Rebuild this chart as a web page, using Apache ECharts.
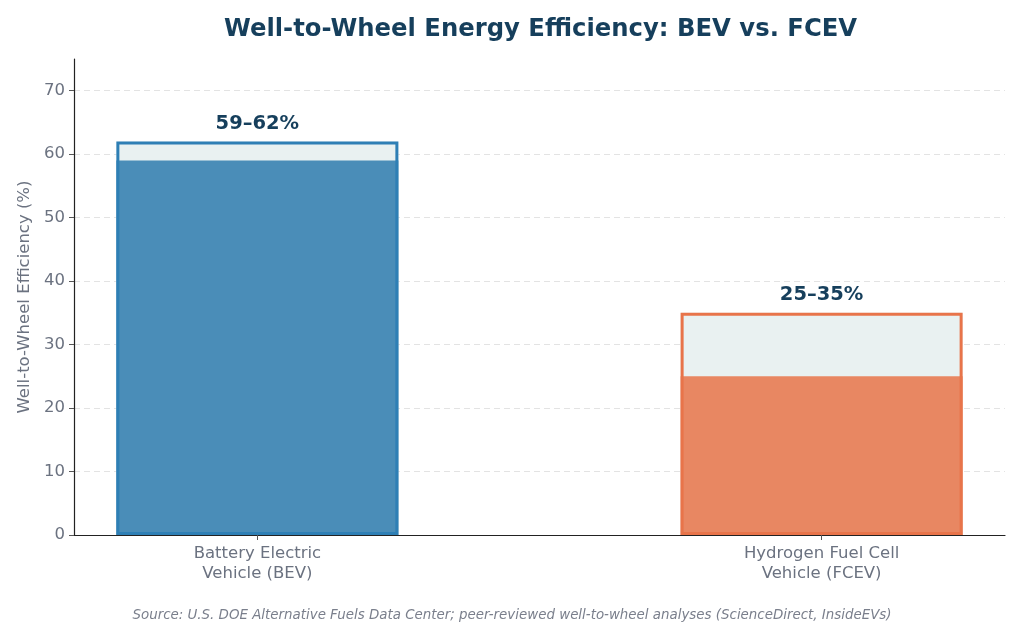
<!DOCTYPE html>
<html>
<head>
<meta charset="utf-8">
<script src="https://cdn.jsdelivr.net/npm/echarts@6/dist/echarts.min.js"></script>
<style>
  html, body { margin: 0; padding: 0; background: #fff; }
  #chart { width: 1024px; height: 626px; }
</style>
</head>
<body>
<div id="chart"></div>
<script>
var categories = ['Battery Electric\nVehicle (BEV)', 'Hydrogen Fuel Cell\nVehicle (FCEV)'];
var lowValues = [59, 25];
var highValues = [62, 35];
var rangeLabels = ['59–62%', '25–35%'];
var yTicks = [0, 10, 20, 30, 40, 50, 60, 70];

var fillColors = ['#4a8db8', '#e88762'];
var edgeColors = ['#2e7fb5', '#e8744a'];
var rangeFill = '#e9f1f1';

var font = 'DejaVu Sans';
var chart = echarts.init(document.getElementById('chart'));

// light band runs 0..high, solid part 0..low drawn over it, outline on top
var rangeData = highValues.map(function(v, i) {
  return { value: [i, v], itemStyle: { color: rangeFill } };
});
var baseData = lowValues.map(function(v, i) {
  return { value: [i, v], itemStyle: { color: fillColors[i] } };
});
var outlineData = highValues.map(function(v, i) {
  return {
    value: [i, v],
    itemStyle: { color: 'rgba(0,0,0,0)', borderColor: edgeColors[i], borderWidth: 3 },
    label: { formatter: rangeLabels[i] }
  };
});

chart.setOption({
  animation: false,
  backgroundColor: '#fff',
  textStyle: { fontFamily: font },
  title: {
    text: 'Well-to-Wheel Energy Efficiency: BEV vs. FCEV',
    left: 219,
    top: 13,
    textStyle: { fontFamily: font, fontSize: 24.3, fontWeight: 'bold', color: '#163f5c' }
  },
  graphic: [{
    type: 'text',
    left: 'center',
    top: 609,
    style: {
      text: 'Source: U.S. DOE Alternative Fuels Data Center; peer-reviewed well-to-wheel analyses (ScienceDirect, InsideEVs)',
      font: 'italic 13.4px "DejaVu Sans"',
      fill: '#7a7f8c'
    }
  }],
  grid: { left: 74, right: 19, top: 59, bottom: 91 },
  xAxis: {
    type: 'value',
    min: -0.325,
    max: 1.325,
    axisLine: { show: true, onZero: false, lineStyle: { color: '#222', width: 1.2 } },
    axisTick: { show: true, customValues: [0, 1], length: 5, lineStyle: { color: '#555' } },
    axisLabel: {
      customValues: [0, 1],
      formatter: function(v) { return categories[Math.round(v)]; },
      fontFamily: font,
      color: '#6b7280',
      fontSize: 16.5,
      lineHeight: 20,
      margin: 9
    },
    splitLine: { show: false }
  },
  yAxis: {
    type: 'value',
    min: 0,
    max: 75,
    interval: 10,
    name: 'Well-to-Wheel Efficiency (%)',
    nameLocation: 'middle',
    nameGap: 41,
    nameTextStyle: { color: '#6b7280', fontSize: 16.5, fontFamily: font },
    axisLine: { show: true, onZero: false, lineStyle: { color: '#222', width: 1.2 } },
    axisTick: { show: true, customValues: yTicks, length: 5, lineStyle: { color: '#555' } },
    axisLabel: {
      customValues: yTicks,
      fontFamily: font,
      color: '#6b7280',
      fontSize: 16.5,
      margin: 9
    },
    splitLine: { show: true, showMaxLine: true, showMinLine: false, lineStyle: { color: '#e3e3e3', type: [6, 4], width: 1 } }
  },
  series: [{
    type: 'bar',
    barWidth: 282,
    data: rangeData,
    z: 2
  }, {
    type: 'bar',
    barWidth: 282,
    barGap: '-100%',
    data: baseData,
    z: 2
  }, {
    type: 'bar',
    barWidth: 282,
    barGap: '-100%',
    data: outlineData,
    z: 3,
    label: {
      show: true,
      position: 'top',
      distance: 8,
      fontFamily: font,
      fontSize: 19.5,
      fontWeight: 'bold',
      color: '#163f5c'
    }
  }]
});
</script>
</body>
</html>
